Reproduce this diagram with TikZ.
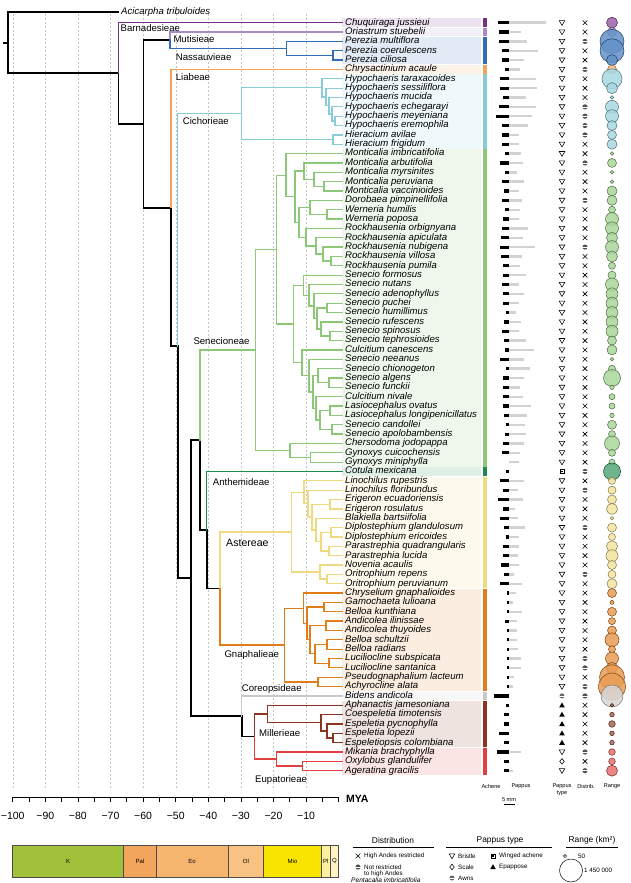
\documentclass[tikz,border=0pt]{standalone}
\usepackage{fontspec}
\setmainfont{Liberation Sans}
\usetikzlibrary{positioning}

\definecolor{barn}{HTML}{7D2E8D}
\definecolor{muti}{HTML}{A88BC7}
\definecolor{nass}{HTML}{2F6DB5}
\definecolor{liab}{HTML}{F3A35A}
\definecolor{cich}{HTML}{8ACBD8}
\definecolor{sene}{HTML}{8CC878}
\definecolor{anth}{HTML}{1E8A4B}
\definecolor{aste}{HTML}{F0DA80}
\definecolor{gnap}{HTML}{E27D1C}
\definecolor{core}{HTML}{C9C9C9}
\definecolor{mill}{HTML}{8A3421}
\definecolor{eupa}{HTML}{E2413F}
\definecolor{geoK}{HTML}{A2C13A}
\definecolor{geoPal}{HTML}{F2A55C}
\definecolor{geoEo}{HTML}{F6B56E}
\definecolor{geoOl}{HTML}{F8C283}
\definecolor{geoMio}{HTML}{F7E400}
\definecolor{geoPl}{HTML}{FCF0A0}
\definecolor{geoQ}{HTML}{FFF3C0}

\tikzset{
	species/.style={anchor=west, inner xsep=3pt, inner ysep=0pt, text height=6.6pt, text depth=1.9pt, font=\fontsize{9.6}{9.6}\selectfont\itshape},
	tribe/.style={anchor=west, inner sep=0pt, font=\fontsize{9.6}{9.6}\selectfont},
	bb/.style={line width=1.6pt, black, line cap=rect},
	br/.style={line width=1.25pt, line cap=rect},
	grid line/.style={gray!45, line width=.4pt, dash pattern=on 2pt off 2pt},
	axislab/.style={font=\fontsize{10.5}{11}\selectfont, inner sep=0pt},
	geolab/.style={font=\fontsize{6}{6}\selectfont, inner sep=0pt},
	colhead/.style={font=\fontsize{5.6}{6}\selectfont, inner sep=0pt},
	keyhead/.style={font=\fontsize{8.4}{9}\selectfont, inner sep=0pt},
	keytext/.style={font=\fontsize{6.3}{7}\selectfont, inner sep=0pt, anchor=west},
	pb/.pic={\draw[line width=.55pt] (-2.8,-2.1) -- (2.8,-2.1) -- (0,2.7) -- cycle;},
	pw/.pic={\draw[line width=.55pt] (-2.1,-2.1) rectangle (2.1,2.1); \fill (-.8,-.8) rectangle (.8,.8);},
	pa/.pic={\fill[black!60] (0,0) circle[radius=2.5pt]; \draw[white, line width=.35pt] (-2.5,0) -- (2.5,0);},
	pe/.pic={\fill (-2.8,2.1) -- (2.8,2.1) -- (0,-2.8) -- cycle;},
	ps/.pic={\draw[line width=.55pt] (0,-2.8) -- (2.3,0) -- (0,2.8) -- (-2.3,0) -- cycle;},
	dx/.pic={\draw[line width=.6pt] (-2.3,-2.3) -- (2.3,2.3) (-2.3,2.3) -- (2.3,-2.3);},
	do/.pic={\fill[black!68] (0,0) circle[radius=2.6pt]; \draw[white, line width=.5pt] (-2.6,0) -- (2.6,0);},
}

\begin{document}
\begin{tikzpicture}[x=1pt,y=-1pt]
	\useasboundingbox (0,0) rectangle (630,883);
	\fill[white] (0,0) rectangle (630,883);

	\foreach \k in {0,...,9}
		\draw[grid line] ({12.7+32.6*\k},14) -- ({12.7+32.6*\k},790);

	\foreach \f/\l/\cl in {1/1/barn,2/2/muti,3/5/nass,6/6/liab,7/14/cich,15/48/sene,49/49/anth,50/61/aste,62/72/gnap,73/73/core,74/78/mill,79/81/eupa}{
		\fill[\cl!14] (342,{22.7+9.35*(\f-1)-4.35}) rectangle (481,{22.7+9.35*(\l-1)+4.35});
		\fill[\cl] (482.5,{22.7+9.35*(\f-1)-4.35}) rectangle (487,{22.7+9.35*(\l-1)+4.35});
	}

	\node[species] (aci) at (118,12.3) {Acicarpha tribuloides};

	\foreach \sp/\a/\p/\pt/\ds/\rr/\cl [count=\i] in {
		Chuquiraga jussieui/11/37/b/x/5.5/barn,
		Oriastrum stuebelii/10/12/b/x/4.5/muti,
		Perezia multiflora/10/18/b/o/12/nass,
		Perezia coerulescens/7/29/b/x/12/nass,
		Perezia ciliosa/7/15/b/x/5.5/nass,
		Chrysactinium acaule/4/11/b/o/4.5/liab,
		Hypochaeris taraxacoides/9/27/b/x/10/cich,
		Hypochaeris sessiliflora/9/28/b/x/5.5/cich,
		Hypochaeris mucida/6/17/b/x/1.8/cich,
		Hypochaeris echegarayi/10/27/b/o/6.5/cich,
		Hypochaeris meyeniana/13/23/b/o/6.5/cich,
		Hypochaeris eremophila/7/19/b/o/5/cich,
		Hieracium avilae/7/10/b/o/4.5/cich,
		Hieracium frigidum/7/10/b/x/5/cich,
		Monticalia imbricatifolia/4/12/b/x/1.8/sene,
		Monticalia arbutifolia/9/14/b/o/4.5/sene,
		Monticalia myrsinites/4/8/b/x/1.8/sene,
		Monticalia peruviana/7/15/b/x/1.8/sene,
		Monticalia vaccinioides/5/10/b/x/5/sene,
		Dorobaea pimpinellifolia/7/13/b/o/5/sene,
		Werneria humilis/4/11/b/x/3.5/sene,
		Werneria poposa/6/10/b/x/6.5/sene,
		Rockhausenia orbignyana/7/19/b/x/6.5/sene,
		Rockhausenia apiculata/8/14/b/x/5.5/sene,
		Rockhausenia nubigena/9/26/b/o/6.5/sene,
		Rockhausenia villosa/8/13/b/x/5.5/sene,
		Rockhausenia pumila/6/11/b/x/3.5/sene,
		Senecio formosus/6/17/b/x/4/sene,
		Senecio nutans/7/10/b/x/6.5/sene,
		Senecio adenophyllus/6/15/b/x/6/sene,
		Senecio puchei/6/10/b/x/6/sene,
		Senecio humillimus/3/7/b/x/6/sene,
		Senecio rufescens/5/12/b/x/6/sene,
		Senecio spinosus/7/10/b/x/6/sene,
		Senecio tephrosioides/5/17/b/x/4.5/sene,
		Culcitium canescens/4/25/b/x/5/sene,
		Senecio neeanus/9/15/b/x/1.8/sene,
		Senecio chionogeton/3/21/b/x/3.5/sene,
		Senecio algens/6/15/b/x/8.5/sene,
		Senecio funckii/6/11/b/x/2.2/sene,
		Culcitium nivale/6/14/b/x/3/sene,
		Lasiocephalus ovatus/6/22/b/x/3/sene,
		Lasiocephalus longipenicillatus/5/18/b/x/2.2/sene,
		Senecio candollei/3/16/b/x/4.5/sene,
		Senecio apolobambensis/4/17/b/x/3.5/sene,
		Chersodoma jodopappa/6/15/b/x/7.5/sene,
		Gynoxys cuicochensis/7/11/b/x/3.5/sene,
		Gynoxys miniphylla/0/10/b/x/3/sene,
		Cotula mexicana/3/0/w/o/8.5/anth,
		Linochilus rupestris/9/15/b/x/3.5/aste,
		Linochilus floribundus/6/9/b/o/4/aste,
		Erigeron ecuadoriensis/11/14/b/x/4.5/aste,
		Erigeron rosulatus/6/6/b/x/5.5/aste,
		Blakiella bartsiifolia/9/9/b/x/1.8/aste,
		Diplostephium glandulosum/5/16/b/o/4.5/aste,
		Diplostephium ericoides/3/10/b/x/3.5/aste,
		Parastrephia quadrangularis/6/10/b/x/5.5/aste,
		Parastrephia lucida/6/9/b/x/6/aste,
		Novenia acaulis/8/10/b/x/4.5/aste,
		Oritrophium repens/5/5/b/o/4/aste,
		Oritrophium peruvianum/9/13/b/x/5/aste,
		Chryselium gnaphalioides/2/7/b/x/4.5/gnap,
		Gamochaeta lulioana/2/4/b/x/2/gnap,
		Belloa kunthiana/2/13/b/x/4.5/gnap,
		Andicolea ilinissae/4/8/b/x/3.5/gnap,
		Andicolea thuyoides/2/8/b/x/4.5/gnap,
		Belloa schultzii/2/8/b/x/7/gnap,
		Belloa radians/2/9/b/x/3.5/gnap,
		Luciliocline subspicata/2/12/b/o/6.5/gnap,
		Luciliocline santanica/2/12/b/o/5.5/gnap,
		Pseudognaphalium lacteum/2/5/b/x/12.5/gnap,
		Achyrocline alata/2/4/b/o/13.5/gnap,
		Bidens andicola/15/0/a/o/11/core,
		Aphanactis jamesoniana/3/0/e/x/1.8/mill,
		Coespeletia timotensis/5/0/e/x/2.3/mill,
		Espeletia pycnophylla/5/0/e/x/3.3/mill,
		Espeletia lopezii/10/0/e/x/2.3/mill,
		Espeletiopsis colombiana/5/0/e/x/2.3/mill,
		Mikania brachyphylla/12/12/b/o/3.3/eupa,
		Oxylobus glandulifer/5/0/s/x/3.3/eupa,
		Ageratina gracilis/5/4/b/o/5.5/eupa}{
		\pgfmathsetmacro\yy{22.7+9.35*(\i-1)}
		\node[species] (t\i) at (342,\yy) {\sp};
		\fill ({509-\a},{\yy-1.6}) rectangle (509,{\yy+1.6});
		\fill[gray!35] (509,{\yy-1.2}) rectangle ({509+\p},{\yy+1.2});
		\pic at (562,\yy) {p\pt};
		\pic at (585,\yy) {d\ds};
		\filldraw[fill=\cl!75, draw=\cl!55!black, fill opacity=.85, line width=.5pt] (612,\yy) circle[radius=\rr pt];
	}

	\foreach \n/\x/\y in {stem/4/42.8, r/8/42.8, bar/118.3/73.2, na/143.3/123.8, mut/170/39.9,
		nas/286.7/48.4, pc/333/55.4, nb/171/207.7, nc/177.7/346, cic/241.7/113.7,
		h1/322/87.85, h2/326/96.9, h3/329/105.7, h4/332/113.9, h5/335/120.9, hie/333/139.6,
		nd/191/578.2, ne/200/440, sen/255.5/350, s1/276.7/249.6, s1a/286/175.2, a2/295/196.7,
		a3/304/171.1, a3b/314/179.3, a3c/324/186.3, a4/299/222.3, a5/310/207.4, wer/327/214.4,
		rk/306/237.2, rk2/316/245.9, rk3/323/254.1, rk4/331/261.1,
		s1b/293.3/324, b1/303.3/285.2, b1r/309/295.3, b1s/314/306.1, b1t/317/318.4,
		bp1/327/307.9, bp2/321/328.9, bp3/330/335.9,
		b2/302/362.8, b2r/309/375.7, b2s/313/392, c1/318/375.7, c1b/329/382.7,
		c2/316/408.4, c2b/320/420.1, c3/330/410.7, c4/332/429.4,
		sg/290/450.5, gy/310.7/457.5, nf/206.7/530.1, ag/220/588.6,
		ast/291.7/532.1, asa/304/492.2, ax/308/503.6, ay/312/517.1, er/330/504.2,
		az/316/529.9, dp/321/541.6, di/331/532.3, pa/329/551, asb/320/572, asc/327/579,
		gna/284.3/645.1, g1/303.3/608.2, g2/307/623.4, g2a/324/607.1, g2b/310/639.8,
		g65/326/625.8, g2c/315/653.8, g67/327/644.5, g69/329/663.2, gpa/318/681.9,
		nk/241.7/716.2, me/254.5/736.5, mil/267.3/714, m2/321/722.8, m3/327/731, m4/333/738,
		eup/276.7/759, e2/302.7/766}
		\coordinate (\n) at (\x,\y);

	\draw[bb] (stem) -- (r);
	\draw[bb] (r) |- (aci.west);
	\foreach \a/\b in {r/bar, bar/na, na/mut, na/nb, nb/nc, nc/nd, nd/ne, nd/nk, ne/nf, nf/ag, nk/me}
		\draw[bb] (\a) |- (\b);

	\draw[br, barn] (bar) |- (t1.west);
	\draw[br, muti] (mut) |- (t2.west);
	\foreach \a/\b in {mut/nas, nas/pc, nas/t3.west, pc/t4.west, pc/t5.west}
		\draw[br, nass] (\a) |- (\b);
	\draw[br, liab] (nb) |- (t6.west);
	\foreach \a/\b in {nc/cic, cic/h1, cic/hie, h1/h2, h2/h3, h3/h4, h4/h5, h1/t7.west, h2/t8.west,
		h3/t9.west, h4/t10.west, h5/t11.west, h5/t12.west, hie/t13.west, hie/t14.west}
		\draw[br, cich] (\a) |- (\b);
	\foreach \a/\b in {ne/sen, sen/s1, sen/sg, s1/s1a, s1/s1b, s1a/a2, a2/a3, a2/a4, a3/a3b, a3b/a3c,
		a4/a5, a4/rk, a5/wer, rk/rk2, rk2/rk3, rk3/rk4, s1b/b1, s1b/b2, b1/b1r, b1r/b1s, b1s/b1t,
		b1t/bp1, b1t/bp2, bp2/bp3, b2/b2r, b2r/b2s, b2s/c1, b2s/c2, c1/c1b, c2/c2b, c2b/c3, c2b/c4, sg/gy,
		s1a/t15.west, a3/t16.west, a3b/t17.west, a3c/t18.west, a3c/t19.west, a5/t20.west,
		wer/t21.west, wer/t22.west, rk/t23.west, rk2/t24.west, rk3/t25.west, rk4/t26.west,
		rk4/t27.west, b1/t28.west, b1r/t29.west, b1s/t30.west, bp1/t31.west, bp1/t32.west,
		bp2/t33.west, bp3/t34.west, bp3/t35.west, b2/t36.west, b2r/t37.west, c1/t38.west,
		c1b/t39.west, c1b/t40.west, c2/t41.west, c3/t42.west, c3/t43.west, c4/t44.west,
		c4/t45.west, sg/t46.west, gy/t47.west, gy/t48.west}
		\draw[br, sene] (\a) |- (\b);
	\draw[br, anth] (nf) |- (t49.west);
	\foreach \a/\b in {ag/ast, ast/asa, ast/asb, asa/ax, ax/ay, ay/er, ay/az, az/dp, dp/di, dp/pa, asb/asc,
		asa/t50.west, ax/t51.west, er/t52.west, er/t53.west, az/t54.west, di/t55.west, di/t56.west,
		pa/t57.west, pa/t58.west, asb/t59.west, asc/t60.west, asc/t61.west}
		\draw[br, aste] (\a) |- (\b);
	\foreach \a/\b in {ag/gna, gna/g1, gna/gpa, g1/g2, g2/g2a, g2/g2b, g2b/g65, g2b/g2c, g2c/g67, g2c/g69,
		g1/t62.west, g2a/t63.west, g2a/t64.west, g65/t65.west, g65/t66.west, g67/t67.west,
		g67/t68.west, g69/t69.west, g69/t70.west, gpa/t71.west, gpa/t72.west}
		\draw[br, gnap] (\a) |- (\b);
	\draw[br, core] (nk) |- (t73.west);
	\foreach \a/\b in {me/mil, mil/m2, m2/m3, m3/m4, mil/t74.west, m2/t75.west, m3/t76.west,
		m4/t77.west, m4/t78.west}
		\draw[br, mill] (\a) |- (\b);
	\foreach \a/\b in {me/eup, eup/e2, eup/t79.west, e2/t80.west, e2/t81.west}
		\draw[br, eupa] (\a) |- (\b);

	\node[tribe] (lbarn) at (120.5,28) {Barnadesieae};
	\node[tribe] (lmuti) at (173.3,39.3) {Mutisieae};
	\node[tribe] (lnass) at (175.7,57.3) {Nassauvieae};
	\node[tribe] (lliab) at (175.7,77.3) {Liabeae};
	\node[tribe] (lcich) at (182.7,121) {Cichorieae};
	\node[tribe] (lsene) at (193.3,341) {Senecioneae};
	\node[tribe] (lanth) at (212.7,481.7) {Anthemideae};
	\node[tribe, font=\fontsize{10.6}{11}\selectfont] (laste) at (226,543.3) {Astereae};
	\node[tribe] (lgnap) at (224.3,655) {Gnaphalieae};
	\node[tribe] (lcore) at (241.7,689) {Coreopsideae};
	\node[tribe] (lmill) at (259,732.7) {Millerieae};
	\node[tribe] (leupa) at (255,780) {Eupatorieae};

	\draw[line width=.7pt] (12.7,797) -- (338.7,797);
	\foreach \k in {0,...,20}
		\draw[line width=.7pt] ({12.7+16.3*\k},797) -- ++(0,5);
	\foreach \t [count=\k from 0] in {100,90,...,10}
		\node[axislab] at ({12.7+32.6*\k},816) {−\t};
	\node[anchor=west, inner sep=0pt, font=\fontsize{10.5}{11}\selectfont\bfseries] (mya) at (346,799) {MYA};

	\foreach \a/\b/\cl/\lab in {100/66/geoK/K, 66/56/geoPal/Pal, 56/33.9/geoEo/Eo, 33.9/23/geoOl/Ol, 23/5.33/geoMio/Mio, 5.33/2.58/geoPl/Pl, 2.58/0/geoQ/Q}{
		\filldraw[fill=\cl, draw=black!70, line width=.5pt] ({338.7-3.26*\a},845) rectangle ({338.7-3.26*\b},877);
		\node[geolab] at ({338.7-1.63*(\a+\b)},861) {\lab};
	}

	\node[colhead] at (491,786) {Achene};
	\node[colhead] at (521,786) {Pappus};
	\node[colhead] (mm) at (509,800) {5 mm};
	\draw[line width=.5pt] (504,804.5) -- (515,804.5);
	\node[colhead] at (562,786) {Pappus};
	\node[colhead] at (562,793.5) {type};
	\node[colhead] at (586,786) {Distrib.};
	\node[colhead] at (612,786) {Range};

	\node[keyhead] (kdist) at (393,840) {Distribution};
	\draw[line width=.4pt] (353,847) -- (434,847);
	\coordinate (kx) at (358,856);
	\coordinate (ko) at (358,867);
	\pic at (kx) {dx};
	\pic at (ko) {do};
	\node[keytext, right=6pt of kx] {High Andes restricted};
	\node[keytext, right=6pt of ko] (kfar) {Not restricted};
	\node[keytext] at (364,874) {to high Andes};
	\node[keytext, font=\fontsize{6.6}{7}\selectfont\itshape] at (351,880.5) {Pentacalia imbricatifolia};

	\node[keyhead] (kpap) at (500,840) {Pappus type};
	\draw[line width=.4pt] (446,847) -- (552,847);
	\coordinate (kb) at (452,856);
	\coordinate (kw) at (493,856);
	\coordinate (ks) at (452,867);
	\coordinate (ke) at (493,867);
	\coordinate (ka) at (452,878);
	\pic at (kb) {pb};
	\pic at (kw) {pw};
	\pic at (ks) {ps};
	\pic at (ke) {pe};
	\pic at (ka) {pa};
	\node[keytext, right=6pt of kb] {Bristle};
	\node[keytext, right=6pt of kw] {Winged achene};
	\node[keytext, right=6pt of ks] {Scale};
	\node[keytext, right=6pt of ke] {Epappose};
	\node[keytext, right=6pt of ka] {Awns};

	\node[keyhead] (krange) at (592,840) {Range (km²)};
	\draw[line width=.4pt] (566,847) -- (618,847);
	\draw[line width=.5pt] (565,856) circle[radius=1.6pt];
	\node[keytext] at (578,856) {50};
	\draw[line width=.5pt] (571,870.5) circle[radius=11.5pt];
	\node[keytext] at (584,870.5) {1 450 000};
\end{tikzpicture}
\end{document}
